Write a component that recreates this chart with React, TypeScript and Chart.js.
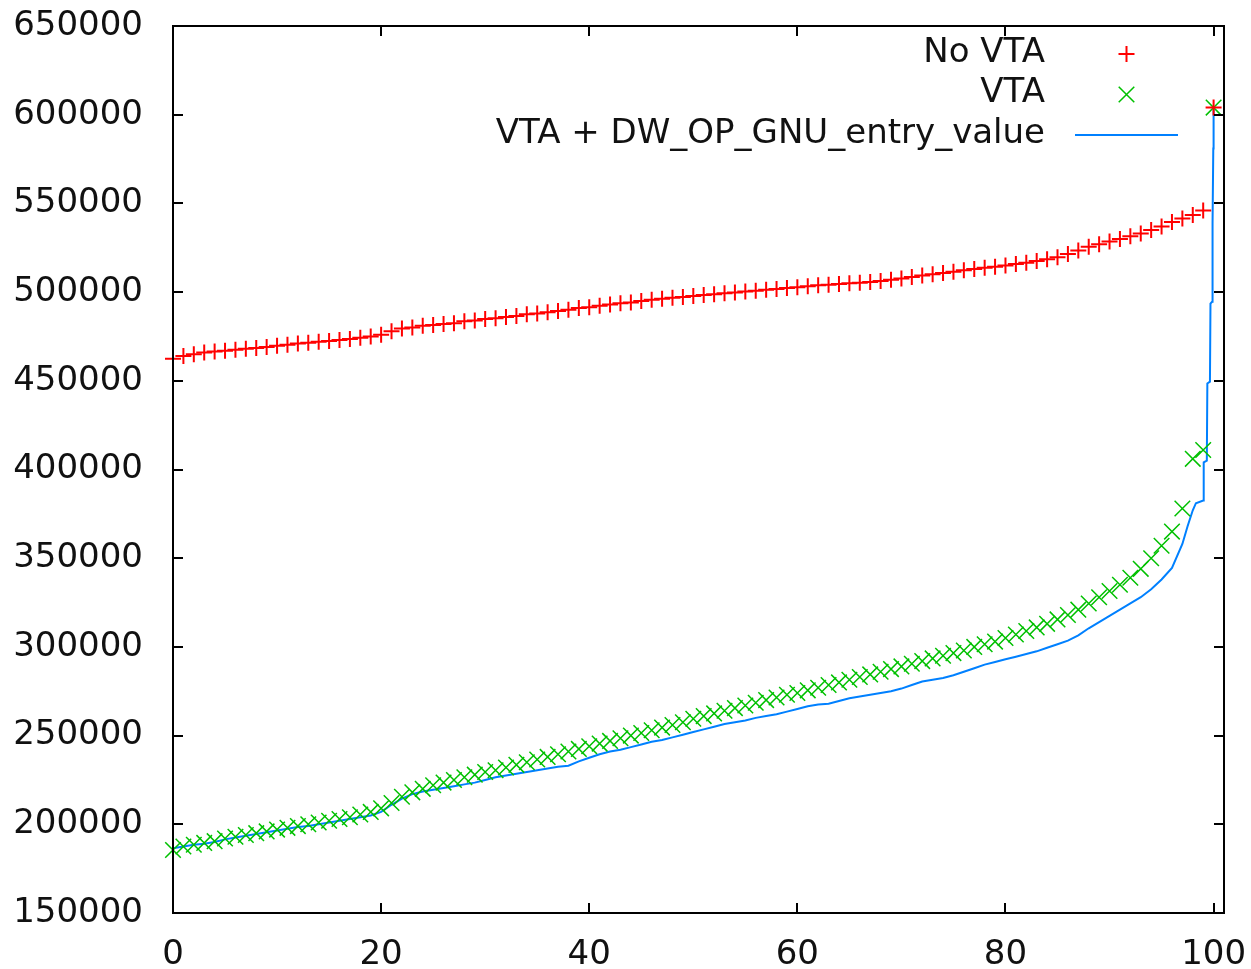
import React, { useEffect, useRef } from "react";
import { Chart, registerables } from "chart.js";
import { drawPoint } from "chart.js/helpers";

Chart.register(...registerables);

const SERIES_NAMES = ["No VTA", "VTA", "VTA + DW_OP_GNU_entry_value"];

const PERCENTILES = Array.from({ length: 101 }, (_, i) => i);

const NO_VTA = [
  462500, 464000, 465000, 466000, 466500, 467000, 467500, 468000, 468500, 469000,
  469800, 470300, 471000, 471500, 472000, 472500, 473000, 473500, 474300, 475000,
  476000, 478000, 479500, 480000, 481000, 481500, 482000, 482500, 483500, 484000,
  484800, 485300, 486000, 486500, 487500, 488000, 488700, 489300, 490000, 491000,
  491500, 492300, 493000, 493700, 494200, 495000, 495700, 496300, 496800, 497300,
  497800, 498300, 498800, 499300, 499800, 500300, 500800, 501300, 501800, 502300,
  502800, 503300, 503800, 504200, 504600, 505000, 505300, 505700, 506300, 507000,
  507700, 508500, 509300, 510000, 510700, 511500, 512300, 513000, 513700, 514300,
  515000, 515800, 516600, 517500, 518500, 519700, 521500, 523500, 525500, 527000,
  528500, 530000, 531500, 533000, 535000, 537000, 539500, 541500, 543500, 546000,
  604000,
];

const VTA = [
  185500, 187500, 188500, 189500, 190500, 192000, 193000, 194000, 195000, 196000,
  197000, 198000, 199000, 200000, 201000, 202000, 203000, 204000, 205500, 207000,
  209000, 212000, 215500, 218000, 220000, 222000, 223500, 225000, 226500, 228000,
  229500, 230500, 232000, 233500, 235000, 236500, 238000, 239500, 241000, 242500,
  244000, 245500, 247000, 248500, 250000, 251500, 253000, 254500, 256000, 257500,
  259500, 261000, 262500, 264000, 265500, 267000, 268500, 270000, 271500, 273000,
  274000, 275500, 277000, 278500, 280000, 281500, 283000, 284500, 286000, 287500,
  289000, 290500, 292000, 293500, 295000, 296500, 298000, 300000, 301500, 303000,
  305000, 307000, 309000, 311000, 313000, 315500, 318000, 321000, 324500, 328000,
  331500, 335000, 339000, 344000, 350000, 357000, 365000, 378000, 406000, 411000,
  604000,
];

// Entry-value line: integer percentiles 0..97, then a finer tail near 100
const ENTRY_VALUE_HEAD = [
  186500, 187500, 188500, 189000, 190000, 191500, 192500, 193500, 194500, 195500,
  196500, 197500, 198500, 199000, 200000, 201000, 202000, 203000, 204000, 205000,
  207000, 211000, 214500, 217000, 218500, 219500, 220500, 221500, 222500, 223500,
  225000, 226500, 227500, 228500, 229500, 230500, 231500, 232500, 233000, 235500,
  237500, 239500, 241000, 242000, 243500, 245000, 246500, 247500, 249000, 250500,
  252000, 253500, 255000, 256500, 257500, 258500, 260000, 261000, 262000, 263500,
  265000, 266500, 267500, 268000, 269500, 271000, 272000, 273000, 274000, 275000,
  276500, 278500, 280500, 281500, 282500, 284000, 286000, 288000, 290000, 291500,
  293000, 294500, 296000, 297500, 299500, 301500, 303500, 306500, 310500, 314000,
  317500, 321000, 324500, 328000, 332500, 338000, 344500, 358000,
];
const ENTRY_VALUE_TAIL_X = [97.5, 98, 98.3, 99.0, 99.05, 99.35, 99.4, 99.65, 99.7, 99.85, 99.9, 99.97, 100];
const ENTRY_VALUE_TAIL_Y = [368000, 377000, 381000, 382500, 404000, 405000, 448500, 449500, 493500, 494500, 538500, 581000, 604000];

const X_MIN = 0;
const X_MAX = 101;
const X_STEP = 20;
const Y_MIN = 150000;
const Y_MAX = 650000;
const Y_STEP = 50000;

const FONT = "DejaVu Sans";
const FONT_SIZE = 34;
const TEXT_COLOR = "#111";

const framePlugin = {
  id: "gnuplotFrame",
  afterDatasetsDraw(chart: any) {
    const { ctx, chartArea } = chart;
    const { left, right, top, bottom } = chartArea;
    ctx.save();
    ctx.strokeStyle = "#000";
    ctx.lineWidth = 2;
    ctx.strokeRect(left, top, right - left, bottom - top);
    const tl = 10;
    ctx.beginPath();
    chart.scales.y.ticks.forEach((t: any) => {
      const py = Math.round(chart.scales.y.getPixelForValue(t.value));
      ctx.moveTo(left, py);
      ctx.lineTo(left + tl, py);
      ctx.moveTo(right, py);
      ctx.lineTo(right - tl, py);
    });
    chart.scales.x.ticks.forEach((t: any) => {
      const px = Math.round(chart.scales.x.getPixelForValue(t.value));
      ctx.moveTo(px, bottom);
      ctx.lineTo(px, bottom - tl);
      ctx.moveTo(px, top);
      ctx.lineTo(px, top + tl);
    });
    ctx.stroke();
    ctx.restore();
  },
  afterDraw(chart: any) {
    const { ctx, chartArea } = chart;
    const textRight = chartArea.right - 179;
    const sampleLeft = chartArea.right - 149;
    const sampleRight = chartArea.right - 46;
    const sampleMid = (sampleLeft + sampleRight) / 2;
    ctx.save();
    ctx.font = `${FONT_SIZE}px "${FONT}"`;
    ctx.fillStyle = TEXT_COLOR;
    ctx.textAlign = "right";
    ctx.textBaseline = "middle";
    chart.data.datasets.forEach((ds: any, i: number) => {
      const y = chartArea.top + 27 + i * 40.5;
      ctx.fillText(ds.label, textRight, y);
      if (ds.showLine) {
        ctx.strokeStyle = ds.borderColor;
        ctx.lineWidth = ds.borderWidth;
        ctx.beginPath();
        ctx.moveTo(sampleLeft, y + 1);
        ctx.lineTo(sampleRight, y + 1);
        ctx.stroke();
      } else {
        ctx.strokeStyle = ds.pointBorderColor;
        ctx.lineWidth = ds.pointBorderWidth;
        drawPoint(ctx, { pointStyle: ds.pointStyle, radius: ds.pointRadius, rotation: 0, borderWidth: ds.pointBorderWidth }, sampleMid, y + 1);
      }
    });
    ctx.restore();
  },
};

const zeroPadding = (s: any) => {
  s.paddingTop = 0;
  s.paddingBottom = 0;
  s.paddingLeft = 0;
  s.paddingRight = 0;
};

export default function App() {
  const canvasRef = useRef<HTMLCanvasElement | null>(null);

  useEffect(() => {
    const canvas = canvasRef.current;
    if (!canvas) return;
    const chart = new Chart(canvas, {
      type: "scatter",
      data: {
        datasets: [
          {
            label: SERIES_NAMES[0],
            data: PERCENTILES.map((x, i) => ({ x, y: NO_VTA[i] })),
            showLine: false,
            pointStyle: "cross",
            pointRadius: 8,
            pointBorderColor: "#ff0000",
            pointBackgroundColor: "#ff0000",
            pointBorderWidth: 2,
            clip: false,
          } as any,
          {
            label: SERIES_NAMES[1],
            data: PERCENTILES.map((x, i) => ({ x, y: VTA[i] })),
            showLine: false,
            pointStyle: "crossRot",
            pointRadius: 11,
            pointBorderColor: "#00c000",
            pointBackgroundColor: "#00c000",
            pointBorderWidth: 1.5,
            clip: false,
          } as any,
          {
            label: SERIES_NAMES[2],
            data: [
              ...ENTRY_VALUE_HEAD.map((y, i) => ({ x: PERCENTILES[i], y })),
              ...ENTRY_VALUE_TAIL_X.map((x, i) => ({ x, y: ENTRY_VALUE_TAIL_Y[i] })),
            ],
            showLine: true,
            borderColor: "#0080ff",
            borderWidth: 2,
            pointRadius: 0,
            tension: 0,
            clip: false,
          } as any,
        ],
      },
      options: {
        animation: false,
        responsive: false,
        maintainAspectRatio: false,
        layout: { padding: { top: 26, right: 27, left: 0, bottom: 0 } },
        plugins: { legend: { display: false }, tooltip: { enabled: false } },
        scales: {
          x: {
            type: "linear",
            min: X_MIN,
            max: X_MAX,
            grid: { display: false, drawTicks: false },
            border: { display: false },
            ticks: {
              stepSize: X_STEP,
              includeBounds: false,
              color: TEXT_COLOR,
              font: { family: FONT, size: FONT_SIZE },
              padding: 22,
              maxRotation: 0,
              callback: (v: any) => String(v),
            },
            afterFit: (s: any) => {
              s.height = 56;
              zeroPadding(s);
            },
          },
          y: {
            type: "linear",
            min: Y_MIN,
            max: Y_MAX,
            grid: { display: false, drawTicks: false },
            border: { display: false },
            ticks: {
              stepSize: Y_STEP,
              color: TEXT_COLOR,
              font: { family: FONT, size: FONT_SIZE },
              padding: 30,
              callback: (v: any) => String(v),
            },
            afterFit: (s: any) => {
              s.width = 173;
              zeroPadding(s);
            },
          },
        },
      },
      plugins: [framePlugin],
    });
    return () => chart.destroy();
  }, []);

  return (
    <div style={{ position: "fixed", left: 0, top: 0, width: 1251, height: 969, background: "#fff" }}>
      <canvas ref={canvasRef} width={1251} height={969} style={{ display: "block" }} />
    </div>
  );
}
